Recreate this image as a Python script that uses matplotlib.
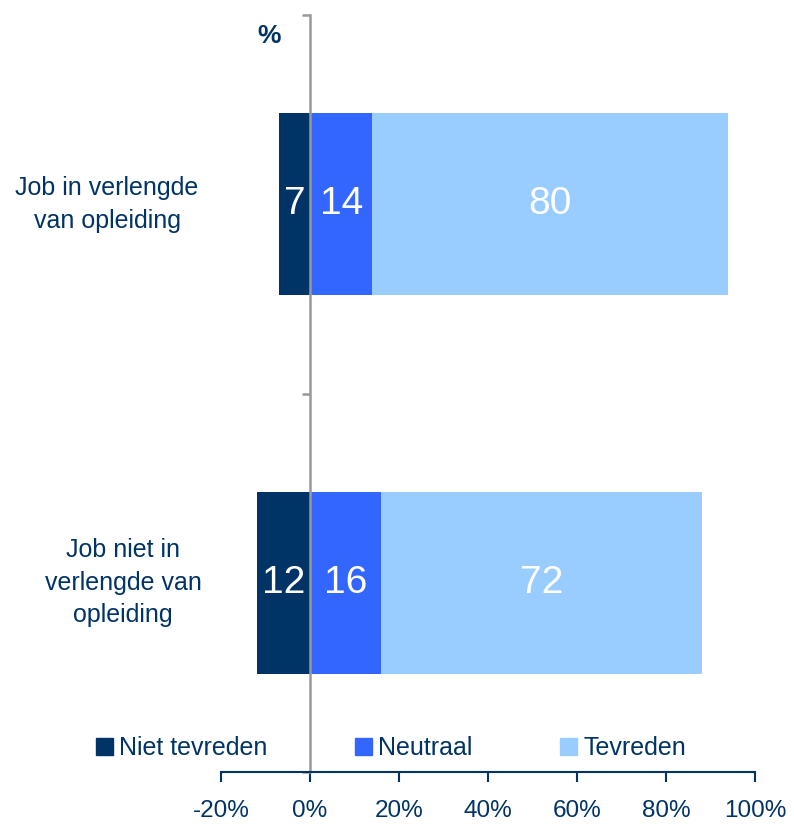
import matplotlib.pyplot as plt
import matplotlib.transforms as mtransforms
from matplotlib.patches import Patch

plt.rcParams['font.family'] = ['Liberation Sans', 'DejaVu Sans']

categories = ['Job in verlengde\nvan opleiding', 'Job niet in\nverlengde van\nopleiding']
niet_tevreden = [7, 12]
neutraal = [14, 16]
tevreden = [80, 72]
series_names = ['Niet tevreden', 'Neutraal', 'Tevreden']
xticks = [-20, 0, 20, 40, 60, 80, 100]

navy = '#003366'
c_niet = '#003366'
c_neu = '#3366FF'
c_tev = '#99CCFF'

fig = plt.figure(figsize=(7.94, 8.24), dpi=100)
ax = fig.add_axes([221 / 794, 52 / 824, 534 / 794, 757 / 824])

y = list(range(len(categories)))
h = 0.48
ax.barh(y, [-v for v in niet_tevreden], height=h, color=c_niet, zorder=1)
ax.barh(y, neutraal, height=h, color=c_neu, zorder=1)
ax.barh(y, tevreden, left=neutraal, height=h, color=c_tev, zorder=1)

# value labels in the middle of each segment
for i in y:
    ax.text(-niet_tevreden[i] / 2, i, str(niet_tevreden[i]), color='white',
            fontsize=28, ha='center', va='center')
    ax.text(neutraal[i] / 2, i, str(neutraal[i]), color='white',
            fontsize=28, ha='center', va='center')
    ax.text(neutraal[i] + tevreden[i] / 2, i, str(tevreden[i]), color='white',
            fontsize=28, ha='center', va='center')

ax.set_xlim(-20, 100)
ax.set_ylim(1.5, -0.5)

ax.spines['top'].set_visible(False)
ax.spines['right'].set_visible(False)
ax.spines['left'].set_position(('data', 0))
ax.spines['left'].set_color('#999999')
ax.spines['left'].set_linewidth(1.8)
ax.spines['bottom'].set_color(navy)
ax.spines['bottom'].set_linewidth(1.5)

ax.set_xticks(xticks)
ax.set_xticklabels([f'{t}%' for t in xticks])
ax.tick_params(axis='x', colors=navy, labelsize=17.5, length=7, width=1.5, pad=13)
ax.set_yticks([-0.5, 0.5, 1.5])
ax.set_yticklabels([])
ax.tick_params(axis='y', colors='#999999', length=6, width=1.8)

# category labels left of the plot
trans = mtransforms.blended_transform_factory(fig.transFigure, ax.transData)
label_x = [107 / 794, 123 / 794]
for i, lab in enumerate(categories):
    ax.text(label_x[i], i, lab, transform=trans, ha='center', va='center',
            fontsize=18, color=navy, linespacing=1.45)

fig.text(269 / 794, 1 - 36 / 824, '%', fontsize=19, fontweight='bold',
         color=navy, ha='center', va='center')

handles = [Patch(color=c) for c in (c_niet, c_neu, c_tev)]
leg = fig.legend(handles, series_names, ncol=3, loc='center',
                 bbox_to_anchor=(391 / 794, 1 - 748 / 824), frameon=False,
                 fontsize=18, handlelength=0.68, handleheight=0.68,
                 handletextpad=0.24, columnspacing=3.5, borderpad=0)
for t in leg.get_texts():
    t.set_color(navy)

fig.savefig('out.png', dpi=100)
